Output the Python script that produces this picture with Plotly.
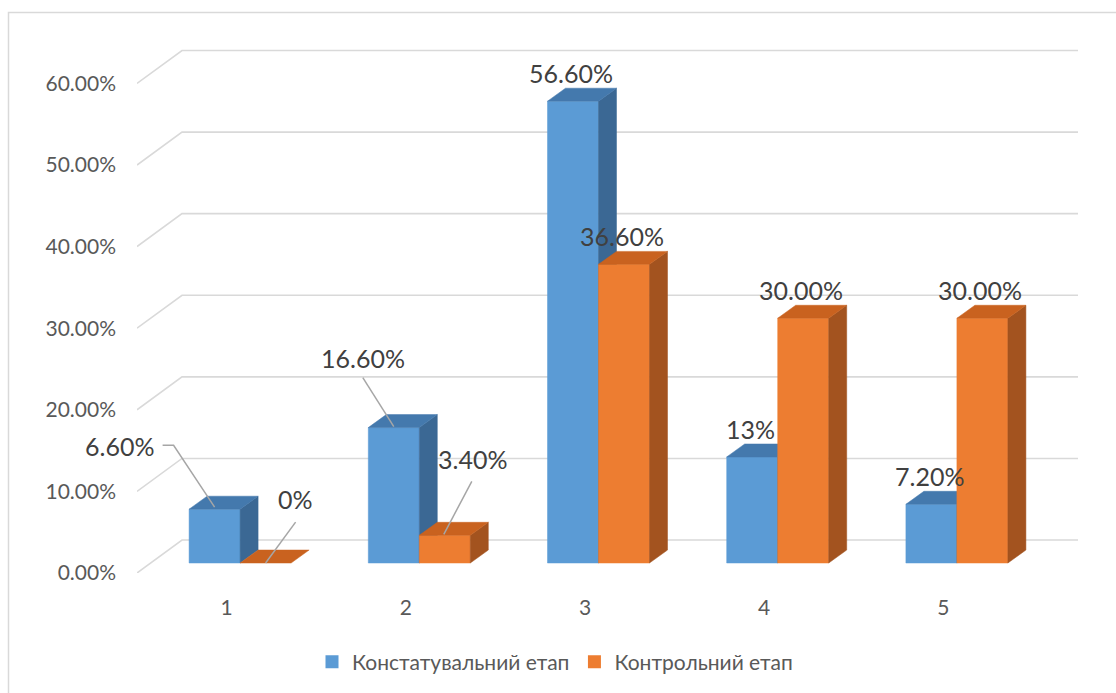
import plotly.graph_objects as go

# ---- data -------------------------------------------------------------
categories = ["1", "2", "3", "4", "5"]
series_names = ["Констатувальний етап", "Контрольний етап"]
konst_values = [6.6, 16.6, 56.6, 13.0, 7.2]
kontr_values = [0.0, 3.4, 36.6, 30.0, 30.0]
konst_labels = ["6.60%", "16.60%", "56.60%", "13%", "7.20%"]
kontr_labels = ["0%", "3.40%", "36.60%", "30.00%", "30.00%"]
y_ticks = [0, 10, 20, 30, 40, 50, 60]
y_tick_labels = ["0.00%", "10.00%", "20.00%", "30.00%", "40.00%", "50.00%", "60.00%"]

# ---- page / axis geometry --------------------------------------------
W, H = 1116, 693
M_L, M_R, M_T, M_B = 137, 38, 40, 119
plot_w = W - M_L - M_R
plot_h = H - M_T - M_B
PX_PER_CAT = 179.2      # horizontal pixels per category slot
PX_PER_PCT = 8.175      # vertical pixels per percentage point
x_range = [0.5, 0.5 + plot_w / PX_PER_CAT]
y_range = [0, plot_h / PX_PER_PCT]


def dx(px):
    return px / PX_PER_CAT


def dy(px):
    return px / PX_PER_PCT


# oblique projection: walls and bar depth
WALL_DX, WALL_DY = 45, 33          # full depth of the chart box
FRONT_DX, FRONT_DY = 13.5, 10      # bar front face offset
BAR_DX, BAR_DY = 18, 13            # depth of each bar
BAR_W = 51                          # bar width in pixels

GRID = "#d9d9d9"
FONT = "Lato, 'Open Sans', sans-serif"
colors = {
    0: dict(front="#5b9bd5", top="#4479ad", side="#3b6894"),
    1: dict(front="#ed7d31", top="#c9621f", side="#a3531f"),
}

fig = go.Figure()

# back wall gridlines and the left wall's diagonals
for v in y_ticks:
    fig.add_trace(go.Scatter(
        x=[x_range[0], x_range[0] + dx(WALL_DX), x_range[1]],
        y=[v, v + dy(WALL_DY), v + dy(WALL_DY)],
        mode="lines", line=dict(color=GRID, width=1.6),
        hoverinfo="skip", showlegend=False))


def bar_geom(cat_idx, s, value):
    cx = cat_idx + 1 + dx(FRONT_DX)
    x0 = cx + (s - 1) * dx(BAR_W)
    x1 = x0 + dx(BAR_W)
    b = dy(FRONT_DY)
    t = b + value
    return x0, x1, b, t


def add_poly(xs, ys, color):
    fig.add_trace(go.Scatter(
        x=xs + [xs[0]], y=ys + [ys[0]], mode="lines", fill="toself",
        fillcolor=color, line=dict(color=color, width=0.5),
        hoverinfo="skip", showlegend=False))


bdx, bdy = dx(BAR_DX), dy(BAR_DY)
for s, values in enumerate([konst_values, kontr_values]):
    c = colors[s]
    for i, v in enumerate(values):
        x0, x1, b, t = bar_geom(i, s, v)
        if v > 0:
            add_poly([x0, x1, x1, x0], [b, b, t, t], c["front"])
            add_poly([x1, x1 + bdx, x1 + bdx, x1], [b, b + bdy, t + bdy, t], c["side"])
        add_poly([x0, x1, x1 + bdx, x0 + bdx], [t, t, t + bdy, t + bdy], c["top"])

# legend entries
for s, name in enumerate(series_names):
    fig.add_trace(go.Scatter(
        x=[None], y=[None], mode="markers", name=name,
        marker=dict(symbol="square", size=13, color=colors[s]["front"])))

# data labels; a few sit off the bar with a leader line (pixel offsets)
leader_offsets = {
    (0, 0): dict(label=(-95, 63), path=[(-52, 64), (-41, 64), (0, 2)]),
    (0, 1): dict(label=(30, 64), path=[(30, 41), (0, 0)]),
    (1, 0): dict(label=(-31, 70), path=[(-31, 50), (0, 1)]),
    (1, 1): dict(label=(28, 76), path=[(27, 54), (-1, 1)]),
}
annotations = []
for s, (values, labels) in enumerate([(konst_values, konst_labels),
                                      (kontr_values, kontr_labels)]):
    for i, (v, lab) in enumerate(zip(values, labels)):
        x0, x1, b, t = bar_geom(i, s, v)
        xc = (x0 + x1) / 2
        spec = leader_offsets.get((i, s))
        if spec is None:
            ox, oy = -2, 28
        else:
            ox, oy = spec["label"]
            fig.add_trace(go.Scatter(
                x=[xc + dx(px) for px, _ in spec["path"]],
                y=[t + dy(py) for _, py in spec["path"]],
                mode="lines", line=dict(color="#a6a6a6", width=1.5),
                hoverinfo="skip", showlegend=False))
        annotations.append(dict(
            x=xc, y=t, xref="x", yref="y", xshift=ox, yshift=oy, text=lab,
            showarrow=False, xanchor="center", yanchor="middle",
            font=dict(family=FONT, size=25, color="#404040")))


def paper_x(px):
    return (px - M_L) / plot_w


def paper_y(py):
    return (H - M_B - py) / plot_h


fig.update_layout(
    width=W, height=H,
    margin=dict(l=M_L, r=M_R, t=M_T, b=M_B, pad=0),
    paper_bgcolor="white", plot_bgcolor="white",
    font=dict(family=FONT, color="#595959"),
    xaxis=dict(range=x_range, tickmode="array", tickvals=[1, 2, 3, 4, 5],
               ticktext=categories, showgrid=False, zeroline=False,
               showline=False, ticks="", ticklabelstandoff=20,
               tickfont=dict(size=21, color="#595959"), fixedrange=True),
    yaxis=dict(range=y_range, tickmode="array", tickvals=y_ticks,
               ticktext=y_tick_labels, showgrid=False,
               zeroline=False, showline=False, ticks="",
               ticklabelstandoff=20,
               tickfont=dict(size=21, color="#595959"), fixedrange=True),
    legend=dict(orientation="h", x=paper_x(555), y=paper_y(662),
                xanchor="center", yanchor="middle",
                font=dict(family=FONT, size=21, color="#595959"),
                itemwidth=30, tracegroupgap=0),
    annotations=annotations,
    shapes=[dict(type="rect", xref="paper", yref="paper",
                 x0=paper_x(8.5), x1=paper_x(W + 20),
                 y0=paper_y(H + 20), y1=paper_y(12.5),
                 line=dict(color=GRID, width=1.5), layer="below")],
    showlegend=True,
)

fig.write_html("out.html")
